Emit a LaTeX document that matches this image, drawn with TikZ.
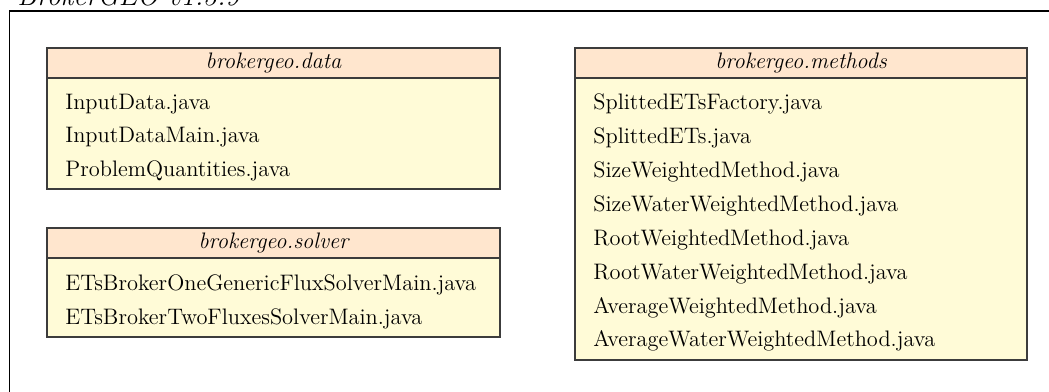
\documentclass[tikz,border=0pt]{standalone}
\definecolor{hdrfill}{RGB}{255,230,206}
\definecolor{bodyfill}{RGB}{255,251,215}
\definecolor{boxline}{RGB}{60,60,60}
\begin{document}
\begin{tikzpicture}[x=0.5pt,y=-0.5pt,
  hdr/.style={draw=boxline,fill=hdrfill,line width=0.55pt},
  bodybox/.style={draw=boxline,fill=bodyfill,line width=0.55pt},
  hdrtext/.style={font=\fontsize{11.2pt}{13pt}\selectfont\itshape,inner sep=0pt},
  item/.style={font=\fontsize{11.2pt}{13pt}\selectfont,anchor=west,inner sep=0pt},
  frameline/.style={line width=0.55pt,black}]
\useasboundingbox (0,0) rectangle (1049,391);
% title and frame
\node[anchor=base west,inner sep=0pt,font=\fontsize{14pt}{16pt}\selectfont\itshape] (title) at (17,5) {BrokerGEO v1.3.9};
\coordinate (fTL) at (9.5,11);
\coordinate (fTR) at (1070,11);
\coordinate (fBL) at (9.5,410);
\draw[frameline] (fTR) -- (fTL) -- (fBL);
% data box
\draw[bodybox] (47,78) rectangle (500,189);
\draw[hdr] (47,48) rectangle (500,78);
\node[hdrtext] (datah) at (273.5,63) {brokergeo.data};
\node[item] (d1) at (65,104) {InputData.java};
\node[item] (d2) at (65,137.5) {InputDataMain.java};
\node[item] (d3) at (65,171) {ProblemQuantities.java};
% solver box
\draw[bodybox] (47,258) rectangle (500,337);
\draw[hdr] (47,228) rectangle (500,258);
\node[hdrtext] (solh) at (273.5,243) {brokergeo.solver};
\node[item] (s1) at (65,285) {ETsBrokerOneGenericFluxSolverMain.java};
\node[item] (s2) at (65,318.5) {ETsBrokerTwoFluxesSolverMain.java};
% methods box
\draw[bodybox] (575,78) rectangle (1027,360);
\draw[hdr] (575,48) rectangle (1027,78);
\node[hdrtext] (meth) at (801,63) {brokergeo.methods};
\node[item] (m1) at (593,104) {SplittedETsFactory.java};
\node[item] (m2) at (593,138) {SplittedETs.java};
\node[item] (m3) at (593,172) {SizeWeightedMethod.java};
\node[item] (m4) at (593,206) {SizeWaterWeightedMethod.java};
\node[item] (m5) at (593,240) {RootWeightedMethod.java};
\node[item] (m6) at (593,274) {RootWaterWeightedMethod.java};
\node[item] (m7) at (593,308) {AverageWeightedMethod.java};
\node[item] (m8) at (593,341) {AverageWaterWeightedMethod.java};
\end{tikzpicture}
\end{document}
